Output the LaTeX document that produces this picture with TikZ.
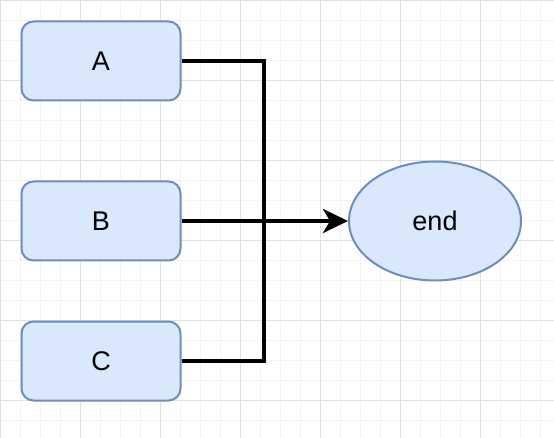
\documentclass[tikz,border=0pt]{standalone}
\usepackage{fontspec}
\setmainfont{Liberation Sans}
\usetikzlibrary{arrows.meta,shapes.geometric}
\definecolor{flowfill}{HTML}{DAE8FC}
\definecolor{flowdraw}{HTML}{6C8EBF}
\definecolor{gridminor}{HTML}{F3F3F3}
\definecolor{gridmajor}{HTML}{E0E0E0}
\tikzset{
    every node/.style={font=\fontsize{27}{32}\selectfont},
    minorgrid/.style={draw=gridminor,line width=1pt},
    majorgrid/.style={draw=gridmajor,line width=1pt},
    procbox/.style={rectangle,rounded corners=12pt,draw=flowdraw,fill=flowfill,line width=2pt,minimum width=159pt,minimum height=79pt,inner sep=0pt},
    endstate/.style={ellipse,draw=flowdraw,fill=flowfill,line width=2pt,minimum width=172pt,minimum height=119pt,inner sep=0pt},
    wire/.style={draw=black,line width=3.6pt}
}
\begin{document}
\begin{tikzpicture}[x=1pt,y=-1pt]
\useasboundingbox (0,0) rectangle (554,438);
\fill[white] (0,0) rectangle (554,438);
% grid
\foreach \g in {0,20,...,540} \draw[minorgrid] (\g+0.5,0) -- (\g+0.5,438);
\foreach \g in {0,20,...,420} \draw[minorgrid] (0,\g+0.5) -- (554,\g+0.5);
\foreach \g in {0,80,...,480} \draw[majorgrid] (\g+0.5,0) -- (\g+0.5,438);
\foreach \g in {0,80,...,400} \draw[majorgrid] (0,\g+0.5) -- (554,\g+0.5);
% nodes
\node[procbox] (a) at (101,61) {A};
\node[procbox] (b) at (101,221) {B};
\node[procbox] (c) at (101,361) {C};
\node[endstate] (e) at (435,221) {end};
\coordinate (join) at (264,221);
% connectors
\draw[wire] (a.east) -| (join);
\draw[wire] (c.east) -| (join);
\draw[wire,-{Stealth[length=25pt,width=24pt,inset=7pt]}] (b.east) -- (e.west);
\end{tikzpicture}
\end{document}
